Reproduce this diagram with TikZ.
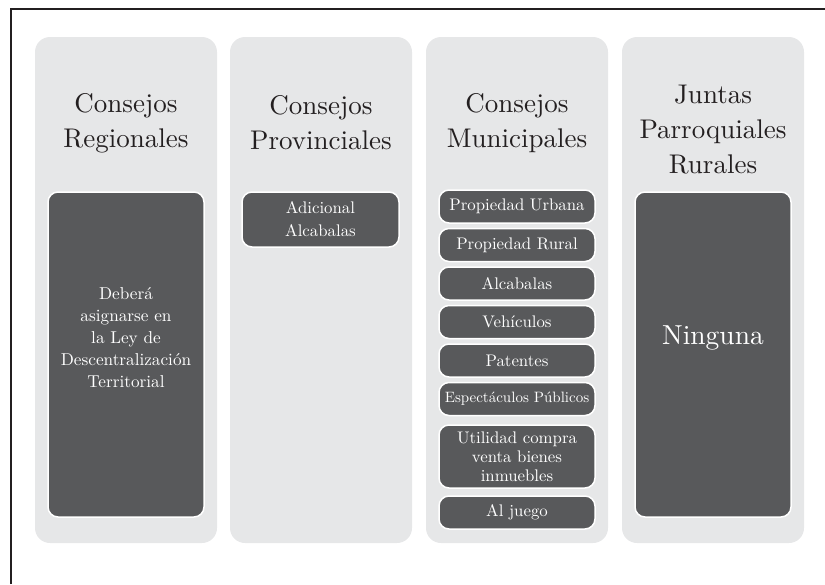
\documentclass[tikz,border=0pt]{standalone}
\usepackage{fontspec}
\setmainfont{lmroman10}[Extension=.otf, UprightFont=*-regular, BoldFont=*-bold, ItalicFont=*-italic]
\definecolor{colgray}{HTML}{E6E7E8}
\definecolor{boxgray}{HTML}{58595B}
\definecolor{titlecol}{HTML}{231F20}
\begin{document}
\begin{tikzpicture}[x=1pt,y=-1pt,
  column/.style={fill=colgray, rounded corners=15pt, minimum width=182pt, minimum height=506pt, inner sep=0pt},
  darkbox/.style={fill=boxgray, draw=white, line width=1.5pt, rounded corners=10pt, minimum width=156pt, minimum height=33pt, inner sep=0pt, text=white, font=\fontsize{16.8}{22}\selectfont, align=center},
  boxtext/.style={text=white, inner sep=0pt, align=center, font=\fontsize{17.2}{22}\selectfont},
  title/.style={text=titlecol, font=\fontsize{27}{35}\selectfont, align=center, inner sep=0pt}]
\useasboundingbox (0,0) rectangle (825,584);
\coordinate (bl) at (11,584);
\coordinate (tl) at (11,9);
\coordinate (tr) at (825,9);
\draw[line width=1.2pt, titlecol] (bl) -- (tl) -- (tr);

\node[column] (col1) at (126,290) {};
\node[column] (col2) at (321,290) {};
\node[column] (col3) at (517,290) {};
\node[column] (col4) at (713,290) {};

\node[title] (t1) at (126,123) {Consejos\\Regionales};
\node[title] (t2) at (321,123) {Consejos\\Provinciales};
\node[title] (t3) at (517,123) {Consejos\\Municipales};
\node[title] (t4) at (713,130) {Juntas\\Parroquiales\\Rurales};

\node[darkbox, minimum height=325pt] (b1) at (126,354.5) {};
\node[boxtext] (b1t) at (126,338) {Deberá\\asignarse en\\la Ley de\\Descentralización\\Territorial};

\node[darkbox, minimum width=157pt, minimum height=55pt, font=\fontsize{16.8}{23}\selectfont] (b2) at (320.5,219.5) {Adicional\\Alcabalas};

\node[darkbox] (m1) at (517,206.5) {Propiedad Urbana};
\node[darkbox] (m2) at (517,245) {Propiedad Rural};
\node[darkbox] (m3) at (517,283.5) {Alcabalas};
\node[darkbox] (m4) at (517,322) {Vehículos};
\node[darkbox] (m5) at (517,360.5) {Patentes};
\node[darkbox, font=\fontsize{15}{20}\selectfont] (m6) at (517,399) {Espectáculos Públicos};
\node[darkbox, minimum height=63pt, font=\fontsize{16.8}{19}\selectfont] (m7) at (517,456.5) {Utilidad compra\\venta bienes\\inmuebles};
\node[darkbox] (m8) at (517,512.5) {Al juego};

\node[darkbox, minimum height=325pt] (b4) at (713,354.5) {};
\node[boxtext, font=\fontsize{27.5}{35}\selectfont] (b4t) at (713,338) {Ninguna};
\end{tikzpicture}
\end{document}
